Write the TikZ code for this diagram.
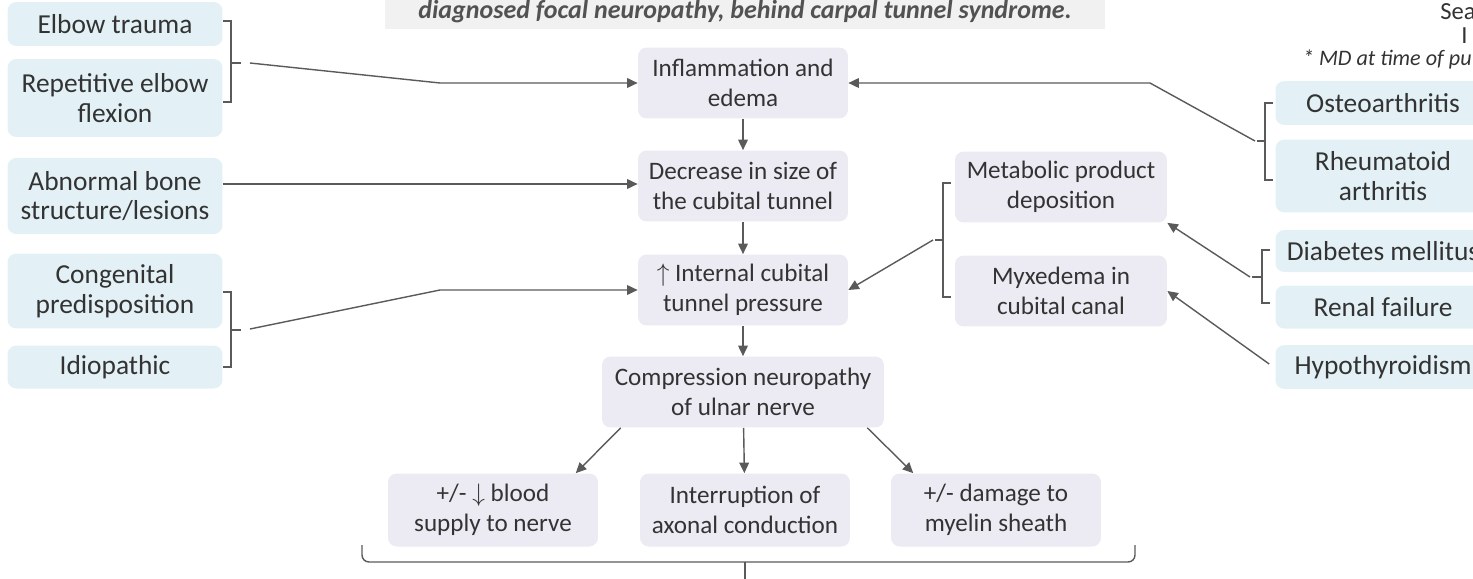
\documentclass[tikz,border=0pt]{standalone}
\usepackage{fontspec}
\setmainfont{Carlito}
\usetikzlibrary{arrows.meta,positioning,calc}
\definecolor{causeblue}{HTML}{E3F1F6}
\definecolor{steplilac}{HTML}{ECEAF2}
\definecolor{headgrey}{HTML}{F1F1F1}
\definecolor{inkgrey}{HTML}{333333}
\definecolor{linegrey}{HTML}{5A5A5A}
\tikzset{
  cause/.style={font=\fontsize{15.6}{17}\selectfont, fill=causeblue, rounded corners=5pt, text=inkgrey,
    align=center, minimum width=4.3cm, minimum height=0.88cm, inner sep=2pt},
  stepbox/.style={font=\fontsize{14.3}{17}\selectfont, fill=steplilac, rounded corners=5pt, text=inkgrey,
    align=center, minimum width=4.2cm, minimum height=1.42cm, inner sep=2pt},
  link/.style={draw=linegrey, line width=0.8pt, -{Triangle[length=6pt,width=5.5pt]}},
  brkt/.style={draw=linegrey, line width=0.8pt},
}
\begin{document}
\begin{tikzpicture}[x=0.02cm, y=-0.02cm]
    \useasboundingbox (0,0) rectangle (1473,578);
    \clip (0,0) rectangle (1473,578);
    % header remains
    \node[fill=headgrey, minimum width=14.4cm, minimum height=0.6cm, text=inkgrey!85,
      font=\fontsize{14.8}{16}\selectfont\bfseries\itshape] (head) at (745,12)
      {diagnosed focal neuropathy, behind carpal tunnel syndrome.};
    \node[anchor=west, text=inkgrey, font=\fontsize{14}{16}\selectfont, inner sep=0pt] (sea) at (1440,12) {Sea};
    \node[anchor=west, text=inkgrey, font=\fontsize{14}{16}\selectfont, inner sep=0pt] (frag) at (1461,36) {I};
    \node[anchor=east, text=inkgrey, font=\fontsize{12.6}{16}\selectfont\itshape, inner sep=0pt] (md) at (1472,59) {* MD at time of pu};
    % left causes
    \node[cause] (trauma) at (115,24) {Elbow trauma};
    \node[cause, minimum height=1.56cm] (repet) at (115,98) {Repetitive elbow\\flexion};
    \node[cause, minimum height=1.52cm] (bone) at (115,196) {Abnormal bone\\structure/lesions};
    \node[cause, minimum height=1.5cm] (congen) at (115,291) {Congenital\\predisposition};
    \node[cause, minimum height=0.86cm] (idio) at (115,367) {Idiopathic};
    % main chain
    \node[stepbox] (inflam) at (743,83) {Inflammation and\\edema};
    \node[stepbox] (decr) at (743,186) {Decrease in size of\\the cubital tunnel};
    \node[stepbox] (press) at (743,290) {$\uparrow$ Internal cubital\\tunnel pressure};
    \node[stepbox, minimum width=5.64cm] (compr) at (743,392) {Compression neuropathy\\of ulnar nerve};
    \node[stepbox, minimum height=1.46cm] (blood) at (493,510) {+/- $\downarrow$ blood\\supply to nerve};
    \node[stepbox, minimum height=1.46cm] (axon) at (745,510) {Interruption of\\axonal conduction};
    \node[stepbox, minimum height=1.46cm] (myelin) at (996,510) {+/- damage to\\myelin sheath};
    % right middle
    \node[stepbox, minimum width=4.24cm] (metab) at (1061,187) {Metabolic product\\deposition};
    \node[stepbox, minimum width=4.24cm] (myx) at (1061,291) {Myxedema in\\cubital canal};
    % right causes
    \node[cause] (osteo) at (1383,103) {Osteoarthritis};
    \node[cause, minimum height=1.46cm] (rheum) at (1383,176) {Rheumatoid\\arthritis};
    \node[cause, minimum height=0.84cm] (diab) at (1383,251) {Diabetes mellitus};
    \node[cause, minimum height=0.86cm] (renal) at (1383,307) {Renal failure};
    \node[cause, minimum height=0.88cm] (hypo) at (1383,367) {Hypothyroidism};
    % brackets
    \coordinate (brA) at (250,63);
    \coordinate (brB) at (250,329);
    \coordinate (brC) at (933,240);
    \coordinate (brD) at (1255,141);
    \coordinate (brE) at (1250,277);
    \draw[brkt] (223,21) -- (231,21) -- (231,102) -- (223,102) (231,63) -- (241,63);
    \draw[brkt] (223,292) -- (231,292) -- (231,367) -- (223,367) (231,330) -- (241,330);
    \draw[brkt] (951,183) -- (943,183) -- (943,297) -- (951,297) (943,240) -- (935,240);
    \draw[brkt] (1273,103) -- (1265,103) -- (1265,180) -- (1273,180) (1265,141) -- (1257,141);
    \draw[brkt] (1270,250) -- (1262,250) -- (1262,303) -- (1270,303) (1262,277) -- (1252,277);
    % connectors
    \draw[link] (brA) -- (440,83) -- (inflam.west);
    \draw[link] (bone.east |- 0,184) -- (decr.west |- 0,184);
    \draw[link] (brB) -- (440,290) -- (press.west);
    \draw[link] (brD) -- (1150,83) -- (inflam.east);
    \draw[link] (brC) -- (press.east);
    \draw[link] (brE) -- (metab.south east);
    \draw[link] (hypo.west) ++(-6,-3) coordinate (hy) (hy) -- (myx.east);
    \draw[link] (inflam) -- (decr);
    \draw[link] (decr) -- (press);
    \draw[link] (press) -- (compr);
    \draw[link] (compr.south west) ++(19,0) coordinate (cl) (cl) -- (blood.24);
    \draw[link] (compr) -- (axon);
    \draw[link] (compr.south east) ++(-17,0) coordinate (cr) (cr) -- (myelin.156);
    % bottom brace
    \draw[brkt, rounded corners=4pt] (362,545) -- (362,562) -- (1135,562) -- (1135,545);
    \draw[brkt] (745,562) -- (745,580);
\end{tikzpicture}
\end{document}
